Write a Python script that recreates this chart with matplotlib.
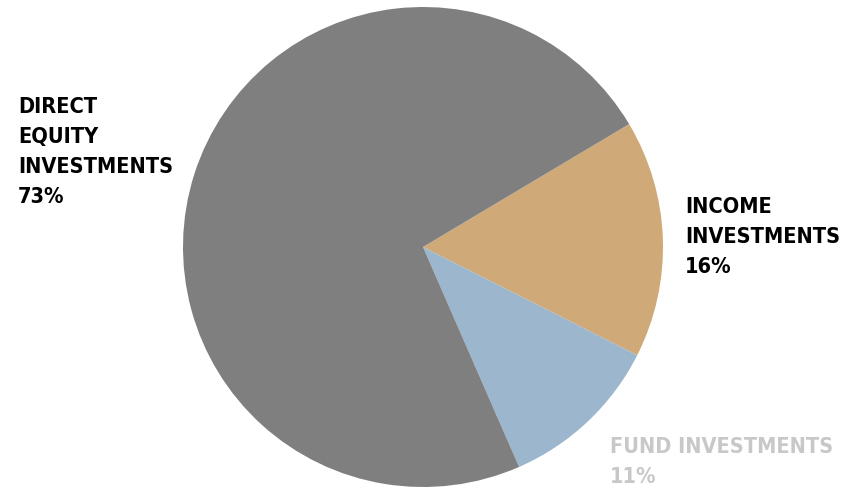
import matplotlib
matplotlib.use("Agg")
import matplotlib.pyplot as plt
from matplotlib import font_manager

# Portfolio split
labels = ["INCOME\nINVESTMENTS", "FUND INVESTMENTS", "DIRECT\nEQUITY\nINVESTMENTS"]
shares = [16, 11, 73]
colors = ["#CFA978", "#9BB6CD", "#7F7F7F"]
label_colors = ["#000000", "#C8C8C8", "#000000"]

# look for a narrow bold sans, otherwise shrink Liberation Sans
narrow = None
for f in font_manager.fontManager.ttflist:
    st = str(f.stretch).lower()
    if ("narrow" in f.name.lower() or "condensed" in f.name.lower() or "condensed" in st) \
            and f.weight in ("bold", 700):
        narrow = f
        break

if narrow is not None:
    font_kw = dict(family=[narrow.name, "DejaVu Sans"], fontstretch=narrow.stretch,
                   fontsize=15.6, linespacing=1.62)
else:
    font_kw = dict(family=["Liberation Sans", "DejaVu Sans"], fontsize=15.6,
                   linespacing=1.55)

W, H = 850, 489
fig = plt.figure(figsize=(W / 100, H / 100), dpi=100)

# pie centre and radius in pixels
cx, cy, r = 423, 248, 240
ax = fig.add_axes([(cx - r) / W, (H - cy - r) / H, 2 * r / W, 2 * r / H])
ax.pie(shares, colors=colors, startangle=30.8, counterclock=False, radius=1,
       wedgeprops=dict(linewidth=0))
ax.set_xlim(-1, 1)
ax.set_ylim(-1, 1)
ax.set_aspect("equal")
ax.axis("off")

# label anchors (left, top) in pixels
pos = [(685, 197), (610, 437), (18, 97)]
for lab, val, col, (px, py) in zip(labels, shares, label_colors, pos):
    fig.text(px / W, 1 - py / H, f"{lab}\n{val}%", color=col,
             fontweight="bold", ha="left", va="top", **font_kw)

fig.savefig("out.png", dpi=100)
